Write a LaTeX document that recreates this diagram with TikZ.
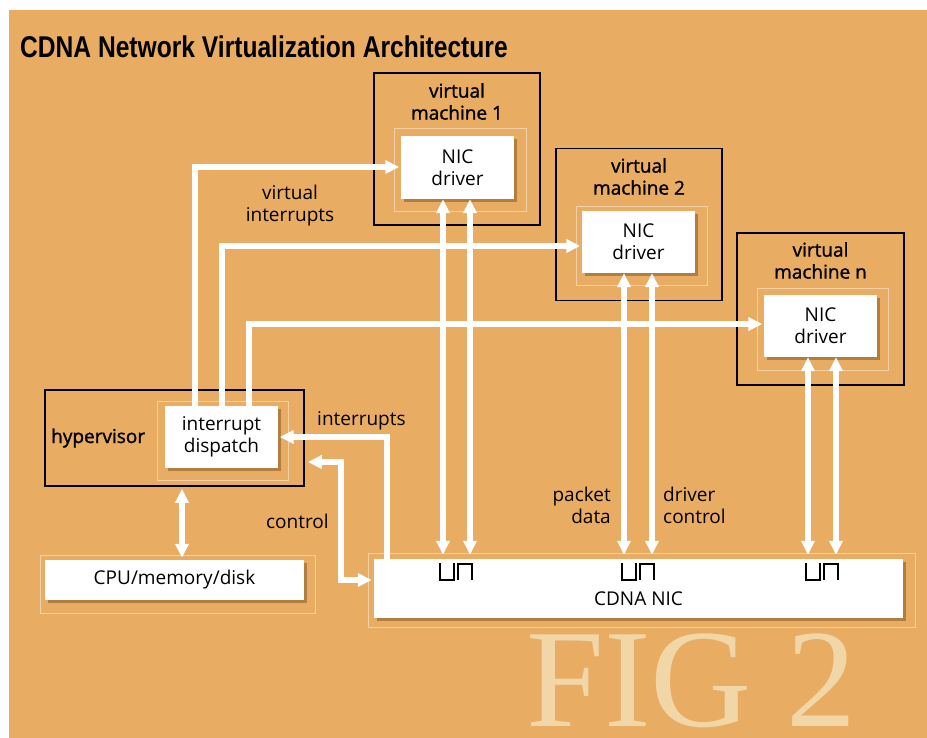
\documentclass[tikz,border=0pt]{standalone}
\usepackage{fontspec}
\setmainfont{Open Sans}
\newfontfamily\headfont{Liberation Sans}
\newfontfamily\figfont{Liberation Serif}
\newfontfamily\midfont[FakeBold=1.3]{Open Sans}
\usetikzlibrary{arrows.meta,shadows}
\definecolor{paper}{RGB}{232,172,98}
\definecolor{figtint}{RGB}{241,214,168}
\definecolor{shade}{RGB}{110,70,25}

\begin{document}
\begin{tikzpicture}[x=1pt,y=-1pt,
  txt/.style={inner sep=0pt, align=center, font=\fontsize{19}{22}\selectfont},
  head/.style={txt, font=\midfont\fontsize{19}{22}\selectfont},
  vmbox/.style={draw=black, line width=1.6pt, minimum width=166pt, minimum height=152pt, inner sep=0pt},
  card/.style={txt, fill=white, drop shadow={shadow xshift=3pt, shadow yshift=-3pt, opacity=0.45, fill=shade}},
  frame/.style={draw=white, opacity=0.45, line width=0.8pt},
  wire/.style={white, line width=5.5pt},
  tip/.style={-{Triangle[length=14pt,width=13pt]}, shorten >=1.5pt},
  dtip/.style={{Triangle[length=14pt,width=13pt]}-{Triangle[length=14pt,width=13pt]}}
]
  % paper
  \fill[white] (0,0) rectangle (927,738);
  \fill[paper] (9,10) rectangle (927,738);
  \useasboundingbox (0,0) rectangle (927,738);

  \node[anchor=base west, inner sep=0pt, text=figtint,
        font=\figfont\fontsize{140}{140}\selectfont] (fig) at (526,726) {FIG 2};
  \node[anchor=base west, inner sep=0pt,
        font=\headfont\bfseries\fontsize{30}{31}\selectfont] (title) at (20,58)
       {\scalebox{0.82}[1]{CDNA Network Virtualization Architecture}};

  % virtual machines
  \node[vmbox] (vm1) at (457,149) {};
  \node[vmbox] (vm2) at (639,224.5) {};
  \node[vmbox, minimum width=167pt] (vm3) at (820.5,309) {};
  \node[head] (t1) at (457,101.5) {virtual\\machine 1};
  \node[head] (t2) at (639,176.5) {virtual\\machine 2};
  \node[head] (t3) at (820.5,260.5) {virtual\\machine n};

  % hypervisor
  \node[draw=black, line width=1.6pt, minimum width=259pt, minimum height=96pt] (hyp) at (174.5,438) {};
  \node[head, anchor=base west] (hyplabel) at (51,443) {hypervisor};

  % light frames
  \draw[frame] (394,128) rectangle (526,211);
  \draw[frame] (576,206) rectangle (707,285);
  \draw[frame] (757,288) rectangle (888,370);
  \draw[frame] (157,401) rectangle (288,480);
  \draw[frame] (40,555) rectangle (315,613);
  \draw[frame] (368,553) rectangle (915,627);

  % white cards
  \node[card, minimum width=113pt, minimum height=63pt] (d1) at (457.5,167.5) {NIC\\driver};
  \node[card, minimum width=113pt, minimum height=62pt] (d2) at (638.5,242) {NIC\\driver};
  \node[card, minimum width=113pt, minimum height=62pt] (d3) at (820.5,326) {NIC\\driver};
  \node[card, minimum width=113pt, minimum height=62pt] (disp) at (221.5,437) {interrupt\\dispatch};
  \node[card, minimum width=259pt, minimum height=40pt] (cpu) at (174.5,580) {CPU/memory/disk};
  \node[card, minimum width=529pt, minimum height=59pt] (nic) at (638.5,588.5) {};
  \node[txt, anchor=base] (niclabel) at (638.5,605) {CDNA NIC};

  % queue pairs
  \foreach \c in {456,638,822} {
    \draw[line width=1.8pt] (\c-16,563) -- (\c-16,580) -- (\c-2,580) -- (\c-2,563);
    \draw[line width=1.8pt] (\c+2,580) -- (\c+2,564) -- (\c+16,564) -- (\c+16,580);
  }

  % labels
  \node[txt] (vint) at (290,205.5) {virtual\\interrupts};
  \node[txt, anchor=base west] (intr) at (317,425) {interrupts};
  \node[txt, anchor=base west] (ctrl) at (266,528) {control};
  \node[txt, align=right, anchor=east] (pkt) at (611,505.5) {packet\\data};
  \node[txt, align=left, anchor=west] (drv) at (663,505.5) {driver\\control};

  % virtual interrupts
  \coordinate (v1) at (195,167);
  \coordinate (v2) at (222,246);
  \coordinate (v3) at (249,324);
  \draw[wire,tip] (v1 |- disp.north) -- (v1) -- (v1 -| d1.west);
  \draw[wire,tip] (v2 |- disp.north) -- (v2) -- (v2 -| d2.west);
  \draw[wire,tip] (v3 |- disp.north) -- (v3) -- (v3 -| d3.west);

  % driver <-> nic
  \foreach \d/\xa/\xb in {d1/443/470, d2/624/652, d3/808/836} {
    \draw[wire,dtip,shorten >=4pt] (\xa,0 |- \d.south) -- (\xa,0 |- nic.north);
    \draw[wire,dtip,shorten >=4pt] (\xb,0 |- \d.south) -- (\xb,0 |- nic.north);
  }

  % interrupts and control
  \draw[wire,tip] (387,0 |- nic.north) |- (disp.east);
  \draw[wire,dtip,shorten <=3pt,shorten >=2pt] (hyp.east |- 0,462) -| (341,580) -- (nic.west |- 0,580);
  \draw[wire,dtip,shorten <=2pt,shorten >=2pt] (182,0 |- hyp.south) -- (182,0 |- cpu.north);
\end{tikzpicture}
\end{document}
